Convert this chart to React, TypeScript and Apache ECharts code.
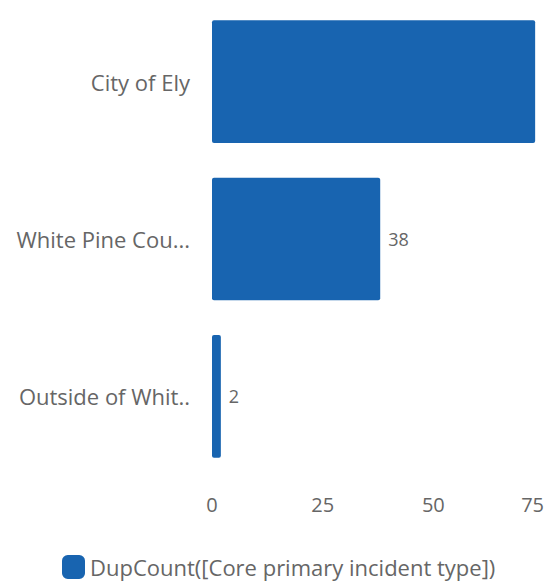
import React, { useEffect, useRef } from "react";
import * as echarts from "echarts";

const categories = ["City of Ely", "White Pine Cou...", "Outside of Whit.."];
const values = [73, 38, 2];
const showValueLabel = [false, true, true];
const seriesName = "DupCount([Core primary incident type])";
const xTicks = { min: 0, max: 75, interval: 25 };

export default function App() {
  const ref = useRef<HTMLDivElement>(null);
  useEffect(() => {
    document.body.style.margin = "0";
    document.body.style.overflow = "hidden";
    const chart = echarts.init(ref.current!, undefined, { renderer: "svg" });
    const font = "'Open Sans', 'Noto Sans', sans-serif";
    chart.setOption({
      animation: false,
      textStyle: { fontFamily: font },
      grid: { left: 212, right: 3, top: 3, bottom: 106, containLabel: false },
      legend: {
        left: 57,
        top: 550,
        icon: "roundRect",
        itemWidth: 23,
        itemHeight: 24,
        itemGap: 10,
        textStyle: { fontSize: 22, color: "#666", fontFamily: font },
        data: [seriesName],
      },
      xAxis: {
        type: "value",
        min: xTicks.min,
        max: xTicks.max,
        interval: xTicks.interval,
        splitLine: { show: false },
        axisLine: { show: false },
        axisTick: { show: false },
        axisLabel: {
          margin: 19,
          fontSize: 20,
          color: "#666",
          fontFamily: font,
          alignMaxLabel: "right",
        },
      },
      yAxis: {
        type: "category",
        inverse: true,
        data: categories,
        axisLine: { show: false },
        axisTick: { show: false },
        axisLabel: { margin: 22, fontSize: 22, color: "#666", fontFamily: font },
      },
      series: [
        {
          name: seriesName,
          type: "bar",
          barWidth: "78%",
          itemStyle: { color: "#1864b0", borderRadius: 2 },
          label: {
            show: true,
            position: "right",
            distance: 8,
            fontSize: 18,
            color: "#666",
            fontFamily: font,
          },
          data: values.map((v, i) => ({ value: v, label: { show: showValueLabel[i] } })),
        },
      ],
    });
    return () => chart.dispose();
  }, []);
  return <div ref={ref} style={{ width: 547, height: 581 }} />;
}
